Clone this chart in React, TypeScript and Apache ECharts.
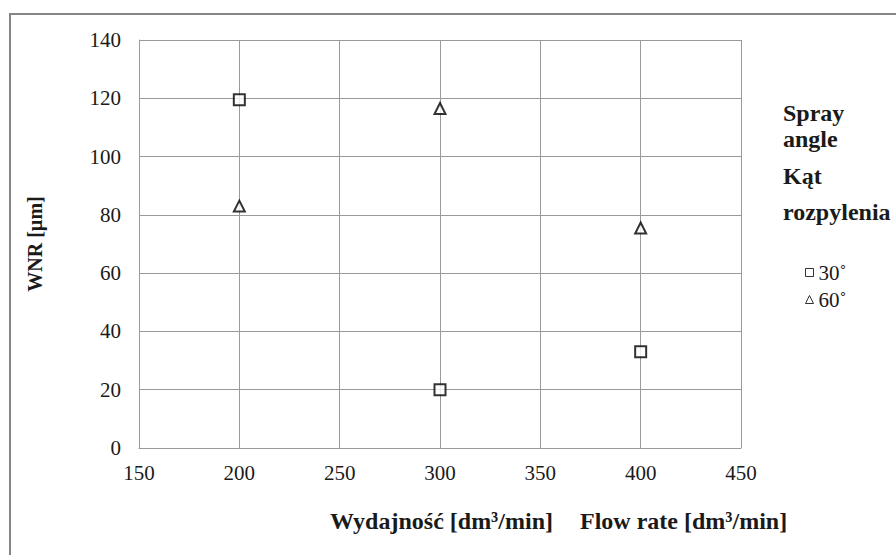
import React, { useEffect, useRef } from "react";
import * as echarts from "echarts";

const flowRates = [200, 300, 400];
const wnr30 = [119.5, 20, 33];
const wnr60 = [83, 116.5, 75.5];
const seriesNames = ["30˚", "60˚"];
const xTitlePl = "Wydajność [dm³/min]";
const xTitleEn = "Flow rate [dm³/min]";
const yTitle = "WNR [µm]";
const legendTitleEn = ["Spray", "angle"];
const legendTitlePl = ["Kąt", "rozpylenia"];

const FONT = "Liberation Serif";

export default function App() {
  const ref = useRef<HTMLDivElement>(null);
  useEffect(() => {
    if (!ref.current) return;
    const chart = echarts.init(ref.current, undefined, { renderer: "svg" });
    const toPts = (vals: number[]) => flowRates.map((x, i) => [x, vals[i]]);
    const boldText = (text: string, left: number, top: number, lineHeight: number) => ({
      type: "text",
      left,
      top,
      style: {
        text,
        fontFamily: FONT,
        fontSize: 24,
        fontWeight: "bold",
        fill: "#1a1a1a",
        lineHeight,
      },
    });
    chart.setOption({
      animation: false,
      backgroundColor: "#ffffff",
      textStyle: { fontFamily: FONT, color: "#1a1a1a" },
      grid: { left: 139, right: 155, top: 40, bottom: 107 },
      xAxis: {
        type: "value",
        min: 150,
        max: 450,
        interval: 50,
        axisLine: { show: true, lineStyle: { color: "#9a9a9a", width: 1 } },
        axisTick: { show: false },
        splitLine: { show: true, lineStyle: { color: "#9a9a9a", width: 1 } },
        axisLabel: { fontFamily: FONT, fontSize: 21, color: "#1a1a1a", margin: 14 },
      },
      yAxis: {
        type: "value",
        min: 0,
        max: 140,
        interval: 20,
        axisLine: { show: true, lineStyle: { color: "#9a9a9a", width: 1 } },
        axisTick: { show: false },
        splitLine: { show: true, lineStyle: { color: "#9a9a9a", width: 1 } },
        axisLabel: { fontFamily: FONT, fontSize: 21, color: "#1a1a1a", margin: 18 },
        name: yTitle,
        nameLocation: "middle",
        nameGap: 94,
        nameRotate: 90,
        nameTextStyle: { fontFamily: FONT, fontSize: 20, fontWeight: "bold", color: "#1a1a1a" },
      },
      legend: {
        orient: "vertical",
        left: 800,
        top: 257,
        itemWidth: 8,
        itemHeight: 8,
        itemGap: 6,
        textStyle: { fontFamily: FONT, fontSize: 21, color: "#1a1a1a" },
        data: [
          { name: seriesNames[0], icon: "rect", itemStyle: { color: "#fff", borderColor: "#000", borderWidth: 1 } },
          { name: seriesNames[1], icon: "triangle", itemStyle: { color: "#fff", borderColor: "#000", borderWidth: 1 } },
        ],
      },
      graphic: [
        {
          type: "rect",
          shape: { x: 10, y: 14, width: 900, height: 560 },
          style: { fill: "none", stroke: "#868686", lineWidth: 2 },
          z: 100,
        },
        boldText(xTitlePl, 330, 507, 28),
        boldText(xTitleEn, 580, 507, 28),
        boldText(legendTitleEn.join("\n"), 783, 100, 26),
        boldText(legendTitlePl.join("\n"), 783, 158, 36),
      ],
      series: [
        {
          name: seriesNames[0],
          type: "scatter",
          symbol: "rect",
          symbolSize: 11,
          data: toPts(wnr30),
          itemStyle: { color: "#ffffff", borderColor: "#000000", borderWidth: 2 },
        },
        {
          name: seriesNames[1],
          type: "scatter",
          symbol: "triangle",
          symbolSize: [11, 11],
          data: toPts(wnr60),
          itemStyle: { color: "#ffffff", borderColor: "#000000", borderWidth: 2 },
        },
      ],
    });
    return () => chart.dispose();
  }, []);
  return (
    <div
      ref={ref}
      style={{ position: "fixed", left: 0, top: 0, width: 896, height: 555 }}
    />
  );
}
